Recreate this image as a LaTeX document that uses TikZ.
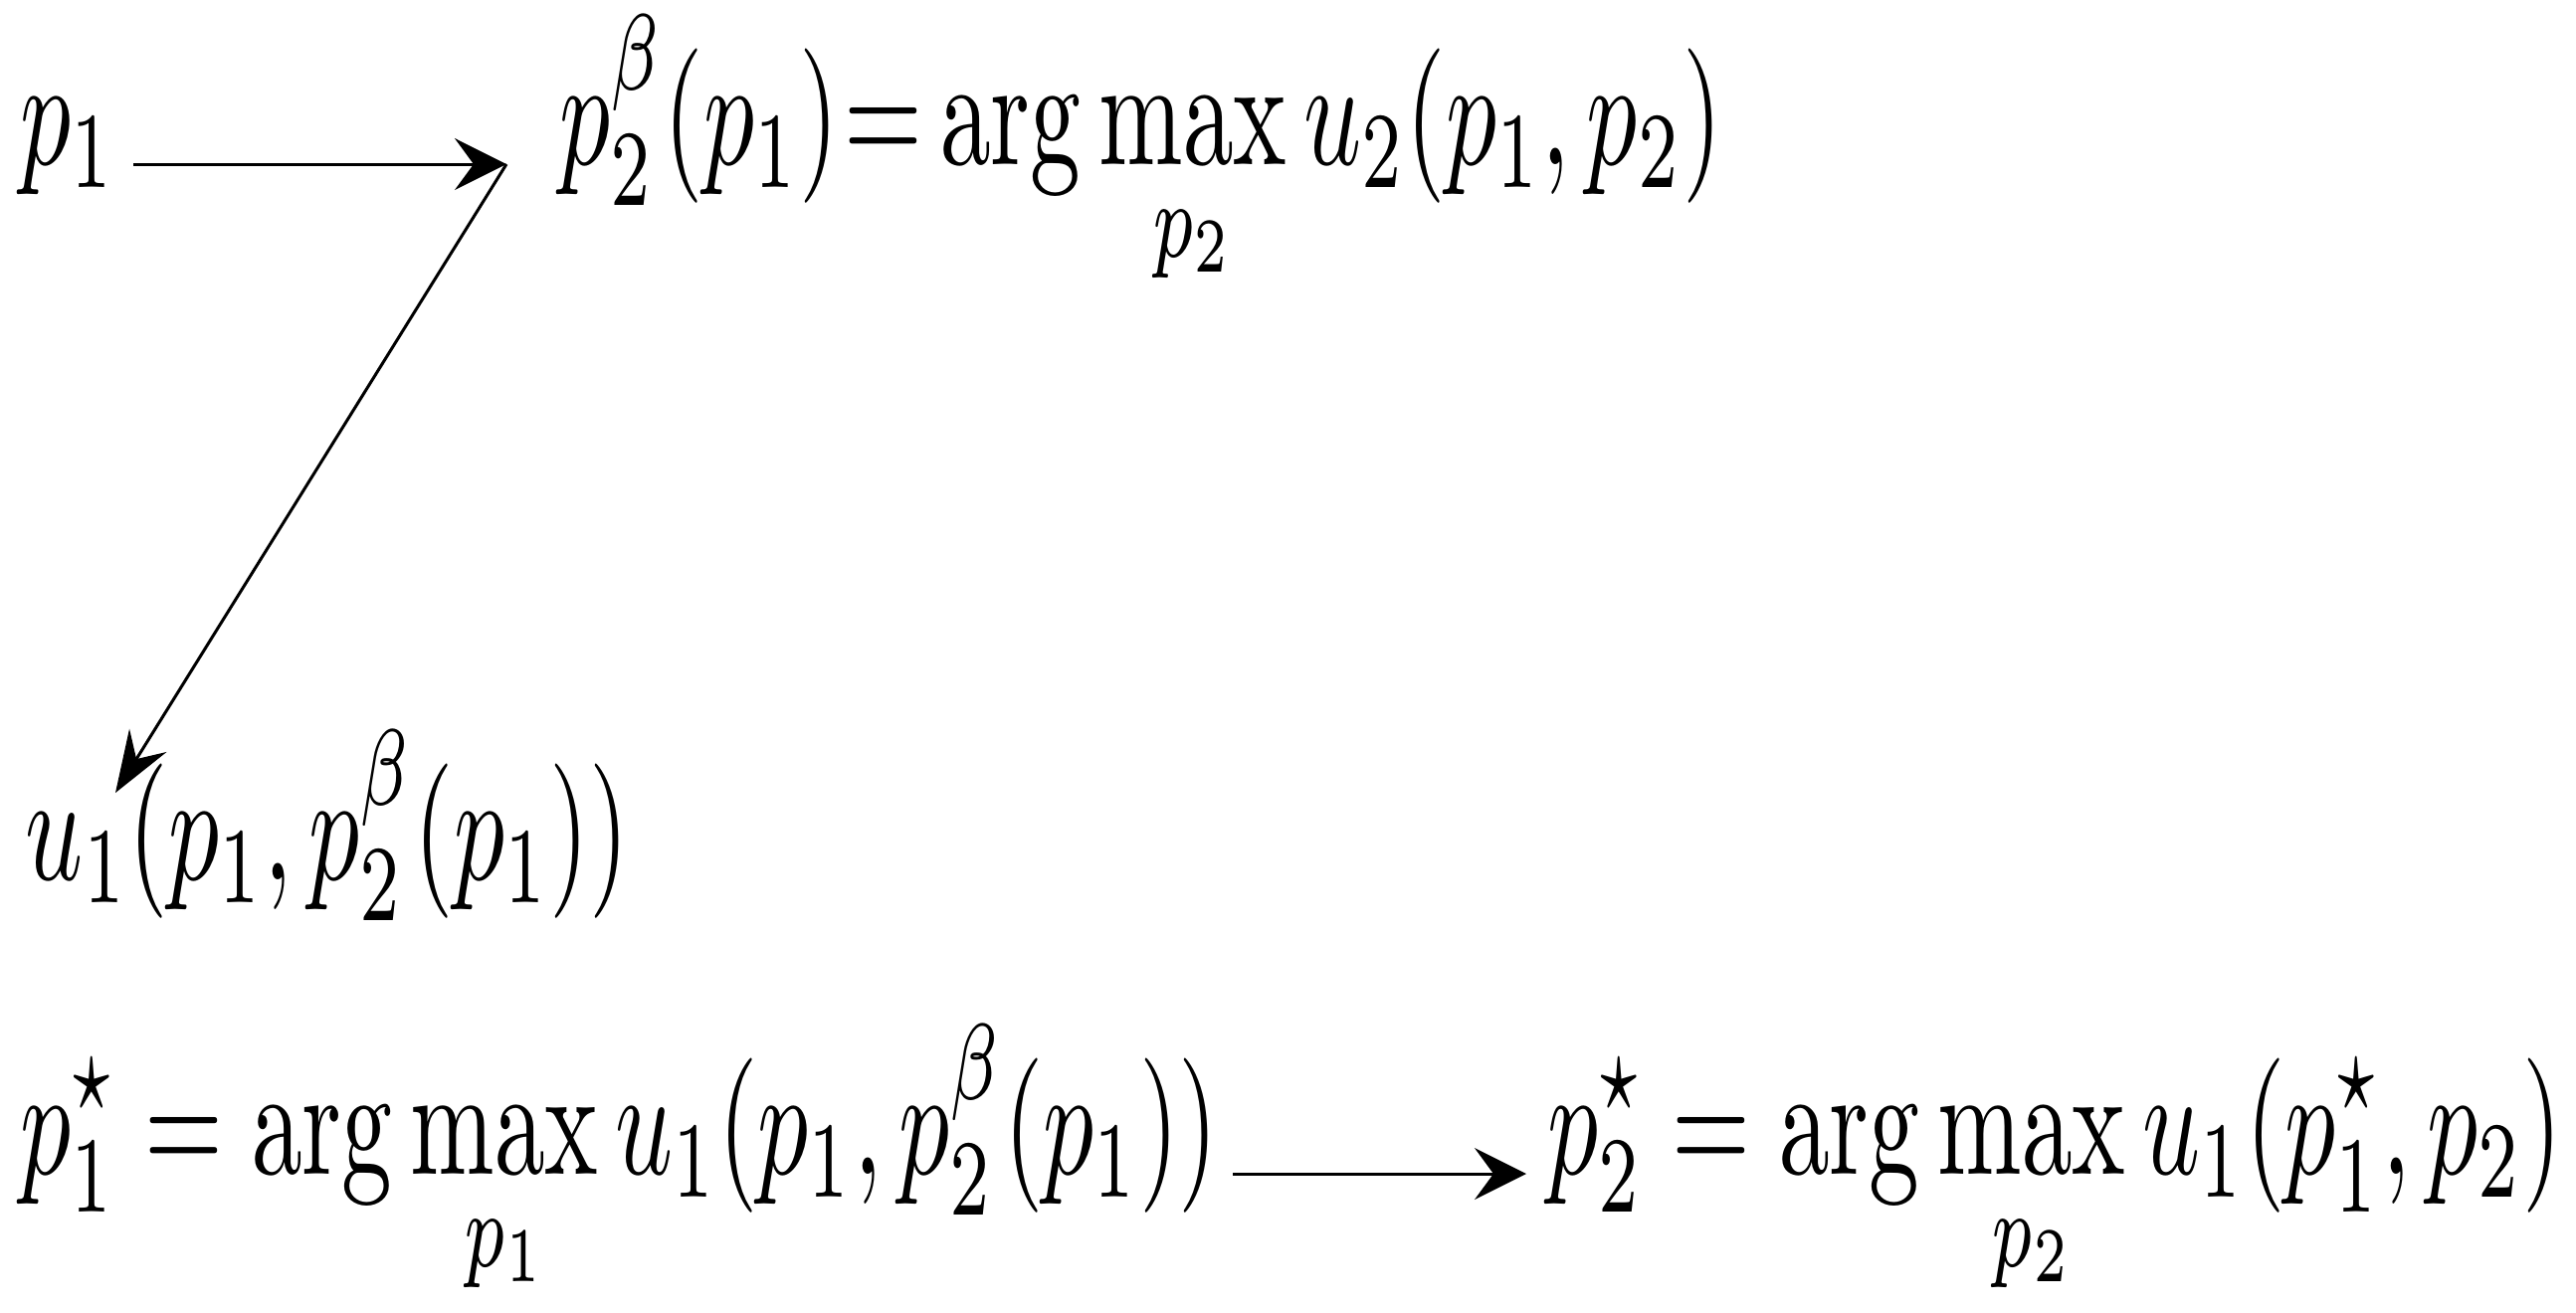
\documentclass[tikz,border=0pt]{standalone}
\usepackage{graphicx}
\usetikzlibrary{arrows.meta}
\newcommand{\sqf}[1]{\scalebox{1.015}[1.554]{$\displaystyle #1$}}
\begin{document}
\begin{tikzpicture}[x=0.1pt,y=-0.1pt,
  lbl/.style={inner sep=0pt,outer sep=0pt,anchor=base west},
  arr/.style={line width=0.3pt,-{Stealth[length=5.2pt,width=5.2pt,inset=1.9pt]}},
  arrd/.style={line width=0.3pt,-{Stealth[length=6.2pt,width=4.4pt,inset=2.2pt]}}]
\useasboundingbox (0,0) rectangle (2589,1319);
\node[lbl] (p1) at (20,165) {\sqf{p_1}};
\node[lbl] (br2) at (562,165) {\sqf{p_2^{\beta}(p_1)\mkern1mu{=}\arg\max_{p_2} u_2(p_1,p_2)}};
\node[lbl] (u1) at (26,884) {\sqf{u_1(p_1,p_2^{\beta}(p_1))}};
\node[lbl] (s1) at (20,1180) {\sqf{p_1^{\star} = \arg\max_{p_1} u_1(p_1,p_2^{\beta}(p_1))}};
\node[lbl] (s2) at (1555,1180) {\sqf{p_2^{\star} = \arg\max_{p_2} u_1(p_1^{\star},p_2)}};
\coordinate (t) at (509,165);
\coordinate (b) at (116,797);
\draw[arr] ([xshift=1.75pt]p1.base east) -- (t);
\draw[arrd] (t) -- (b);
\draw[arr] ([xshift=1.5pt]s1.base east) -- ([xshift=-2.1pt]s2.base west);
\end{tikzpicture}
\end{document}
